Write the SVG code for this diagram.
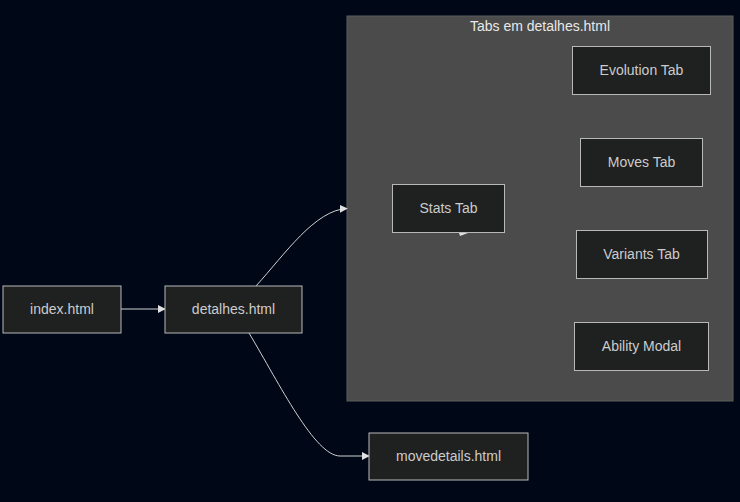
<svg xmlns="http://www.w3.org/2000/svg" width="740" height="502" viewBox="0 0 740 502">
<style>
.bg{fill:#000818}
.cluster rect{fill:#4a4b4a;stroke:#5c5d5c;stroke-width:1}
.node rect{fill:#1f2020;stroke:#b8b8b8;stroke-width:1}
.node text{fill:#cccccc;font-family:"Liberation Sans",Arial,sans-serif;font-size:14px;text-anchor:middle;dominant-baseline:central}
.title{fill:#e8e8e8;font-family:"Liberation Sans",Arial,sans-serif;font-size:14px;text-anchor:middle;dominant-baseline:central}
.edge{fill:none;stroke:#cfcfcf;stroke-width:1}
</style>
<defs>
<marker id="arr" viewBox="0 0 10 10" refX="9" refY="5" markerWidth="8" markerHeight="8" markerUnits="userSpaceOnUse" orient="auto">
<path d="M0,0 L10,5 L0,10 z" fill="#e0e0e0"/>
</marker>
</defs>
<rect class="bg" x="0" y="0" width="740" height="502"/>
<g id="cluster-tabs" class="cluster">
<rect x="347" y="16" width="386" height="385"/>
<text class="title" x="540" y="25.5">Tabs em detalhes.html</text>
</g>
<g id="edges">
<path class="edge" d="M121,309 L165,309" marker-end="url(#arr)"/>
<path class="edge" d="M256,286 C285,254 315,210 347,208.5" marker-end="url(#arr)"/>
<path class="edge" d="M249,333 C280,385 315,456 340,456 L369,456" marker-end="url(#arr)"/>
<path d="M459,233 L468,233 L460,236 z" fill="#e0e0e0"/>
</g>
<g id="index" class="node"><rect x="3" y="286" width="118" height="47"/><text x="62" y="308.5">index.html</text></g>
<g id="detalhes" class="node"><rect x="165" y="286" width="137" height="47"/><text x="233.5" y="308.5">detalhes.html</text></g>
<g id="movedetails" class="node"><rect x="369" y="433" width="159" height="47"/><text x="448.5" y="455.5">movedetails.html</text></g>
<g id="stats" class="node"><rect x="392.5" y="184.5" width="112" height="48"/><text x="448.5" y="207.5">Stats Tab</text></g>
<g id="evolution" class="node"><rect x="572.5" y="46.5" width="138" height="48"/><text x="641.5" y="69.5">Evolution Tab</text></g>
<g id="moves" class="node"><rect x="580.5" y="138.5" width="122" height="48"/><text x="641.5" y="161.5">Moves Tab</text></g>
<g id="variants" class="node"><rect x="576.5" y="230.5" width="131" height="48"/><text x="641.5" y="253.5">Variants Tab</text></g>
<g id="ability" class="node"><rect x="574.5" y="322.5" width="134" height="48"/><text x="641.5" y="345.5">Ability Modal</text></g>
</svg>
